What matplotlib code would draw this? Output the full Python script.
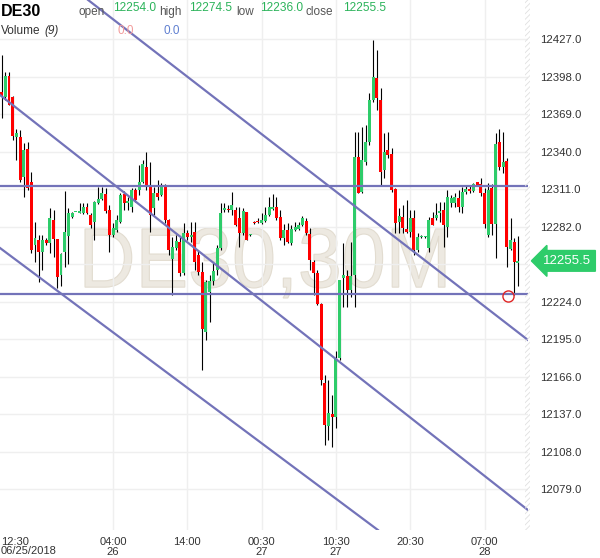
import matplotlib
matplotlib.use("Agg")
import matplotlib.pyplot as plt
from matplotlib.patches import Rectangle, PathPatch
from matplotlib.textpath import TextPath
from matplotlib.font_manager import FontProperties
from matplotlib.transforms import blended_transform_factory, Affine2D, IdentityTransform

# DE30 30-minute candles
opens = [12386.1, 12382.2, 12398.4, 12382.2, 12351.3, 12351.3, 12320.3, 12342.0, 12316.5, 12267.7,
         12271.6, 12262.3, 12271.6, 12269.3, 12287.1, 12272.4, 12244.5, 12262.3, 12274.7, 12289.4,
         12293.3, 12292.5, 12292.5, 12297.1, 12290.9, 12285.5, 12300.2, 12303.3, 12307.2, 12294.8,
         12275.5, 12279.3, 12285.5, 12307.2, 12300.2, 12297.1, 12310.3, 12310.3, 12316.5, 12328.1,
         12314.1, 12296.4, 12307.9, 12306.4, 12314.1, 12287.1, 12256.9, 12265.4, 12270.1, 12246.1,
         12277.0, 12273.9, 12277.8, 12260.0, 12246.8, 12200.5, 12231.4, 12239.9, 12248.4, 12265.4,
         12294.8, 12295.6, 12294.8, 12294.8, 12288.6, 12277.0, 12293.3, 12275.5, 12285.5, 12286.3,
         12284.8, 12286.3, 12290.9, 12295.6, 12297.1, 12289.4, 12273.2, 12279.3, 12269.3, 12279.3,
         12280.1, 12283.2, 12286.3, 12276.2, 12254.6, 12246.1, 12222.1, 12161.0, 12127.8, 12137.1,
         12134.7, 12180.4, 12242.2, 12243.8, 12232.9, 12244.5, 12335.8, 12308.7, 12331.9, 12347.4,
         12379.9, 12396.9, 12379.9, 12325.7, 12341.2, 12338.1, 12311.0, 12285.5, 12289.4, 12280.1,
         12277.8, 12288.6, 12263.9, 12273.9, 12273.9, 12265.4, 12288.6, 12288.6, 12292.5, 12294.8,
         12281.7, 12300.2, 12300.2, 12304.1, 12297.1, 12308.7, 12311.0, 12309.5, 12316.5, 12314.9,
         12307.9, 12275.5, 12311.8, 12284.0, 12347.4, 12328.1, 12332.7, 12264.6, 12270.1, 12254.0]
highs = [12414.7, 12401.5, 12401.5, 12383.0, 12357.4, 12356.7, 12346.6, 12347.4, 12324.2, 12285.5,
         12275.5, 12275.5, 12273.2, 12296.4, 12294.8, 12272.4, 12261.6, 12309.5, 12296.4, 12293.3,
         12293.5, 12300.2, 12300.2, 12300.2, 12292.5, 12301.8, 12312.6, 12312.6, 12311.8, 12298.7,
         12284.8, 12290.9, 12307.9, 12309.5, 12304.9, 12311.8, 12311.8, 12329.6, 12333.5, 12339.7,
         12331.9, 12312.6, 12318.0, 12315.7, 12314.9, 12287.8, 12273.9, 12275.5, 12273.9, 12284.8,
         12279.3, 12285.5, 12285.5, 12263.9, 12254.6, 12240.7, 12244.5, 12254.6, 12267.7, 12300.2,
         12300.2, 12298.7, 12308.7, 12297.1, 12297.1, 12296.4, 12293.3, 12275.9, 12286.3, 12288.6,
         12292.5, 12297.1, 12304.9, 12307.2, 12304.9, 12294.8, 12284.0, 12284.8, 12283.2, 12285.5,
         12285.5, 12290.2, 12288.6, 12280.9, 12256.1, 12248.4, 12222.9, 12167.2, 12163.4, 12151.7,
         12185.8, 12240.7, 12269.3, 12248.4, 12270.1, 12355.1, 12355.1, 12359.0, 12360.5, 12385.3,
         12426.3, 12418.5, 12389.2, 12354.4, 12355.1, 12342.8, 12311.8, 12296.4, 12298.7, 12302.6,
         12294.8, 12294.8, 12277.0, 12275.5, 12274.7, 12289.4, 12293.3, 12300.2, 12301.0, 12301.0,
         12310.3, 12306.4, 12307.9, 12310.3, 12312.6, 12314.1, 12314.1, 12315.7, 12316.5, 12319.5,
         12311.8, 12315.7, 12314.9, 12354.4, 12357.4, 12355.1, 12335.0, 12288.6, 12273.2, 12274.5]
lows = [12366.0, 12379.9, 12376.0, 12349.0, 12333.5, 12316.5, 12304.9, 12310.3, 12261.6, 12254.6,
        12239.1, 12248.4, 12267.7, 12261.6, 12258.5, 12234.5, 12236.0, 12250.7, 12253.0, 12288.6,
        12293.0, 12292.5, 12291.7, 12291.7, 12280.9, 12271.6, 12299.5, 12302.6, 12292.5, 12262.3,
        12273.9, 12277.8, 12284.8, 12294.8, 12294.8, 12293.3, 12301.0, 12306.4, 12315.7, 12310.3,
        12277.8, 12290.9, 12302.6, 12305.6, 12284.8, 12260.0, 12229.1, 12263.9, 12243.8, 12244.5,
        12271.6, 12270.1, 12248.4, 12244.5, 12171.1, 12194.3, 12208.2, 12236.8, 12244.5, 12263.9,
        12293.3, 12293.3, 12290.9, 12282.4, 12266.2, 12275.5, 12271.6, 12275.1, 12284.0, 12284.8,
        12284.0, 12285.5, 12290.2, 12294.8, 12287.1, 12271.6, 12267.7, 12269.3, 12267.7, 12278.5,
        12279.3, 12282.4, 12275.5, 12248.4, 12229.1, 12221.3, 12159.5, 12113.1, 12117.0, 12111.5,
        12126.2, 12178.8, 12219.8, 12219.8, 12227.5, 12219.8, 12307.9, 12307.9, 12329.6, 12345.1,
        12378.3, 12372.1, 12314.1, 12319.5, 12335.0, 12308.7, 12277.0, 12277.0, 12277.0, 12277.0,
        12273.9, 12260.0, 12262.3, 12273.2, 12273.2, 12262.3, 12283.2, 12287.1, 12285.5, 12266.2,
        12273.9, 12297.1, 12297.1, 12293.3, 12292.5, 12307.2, 12307.9, 12308.7, 12313.4, 12305.6,
        12280.9, 12273.9, 12275.5, 12257.7, 12325.7, 12323.4, 12250.7, 12263.9, 12229.1, 12236.0]
closes = [12383.0, 12398.4, 12376.0, 12352.0, 12354.4, 12318.0, 12341.2, 12311.8, 12263.9, 12273.2,
          12262.3, 12271.6, 12269.3, 12288.6, 12272.4, 12243.0, 12260.8, 12277.8, 12292.5, 12292.5,
          12293.3, 12294.0, 12297.1, 12292.5, 12283.2, 12301.0, 12303.3, 12307.9, 12294.0, 12275.5,
          12280.9, 12287.1, 12306.4, 12300.2, 12301.8, 12310.3, 12302.6, 12316.5, 12330.4, 12314.1,
          12290.9, 12307.9, 12304.9, 12313.4, 12287.1, 12263.9, 12266.2, 12270.8, 12246.1, 12277.0,
          12273.9, 12275.5, 12254.6, 12246.8, 12202.8, 12239.1, 12239.9, 12247.6, 12265.4, 12292.5,
          12296.4, 12294.8, 12298.7, 12283.2, 12277.0, 12294.0, 12271.6, 12275.5, 12284.8, 12285.5,
          12287.1, 12290.9, 12297.1, 12297.1, 12288.6, 12273.2, 12279.3, 12270.1, 12280.1, 12281.7,
          12283.2, 12288.6, 12277.0, 12256.1, 12246.1, 12222.1, 12163.4, 12128.6, 12137.8, 12134.7,
          12180.4, 12240.7, 12244.5, 12232.9, 12243.8, 12335.8, 12307.9, 12333.5, 12347.4, 12379.9,
          12397.7, 12381.4, 12324.2, 12339.7, 12337.3, 12310.3, 12284.8, 12290.2, 12280.9, 12277.8,
          12288.6, 12263.9, 12273.9, 12274.7, 12273.9, 12287.1, 12283.2, 12290.9, 12294.0, 12283.2,
          12304.9, 12304.1, 12304.9, 12297.1, 12308.7, 12311.0, 12309.5, 12314.9, 12314.1, 12307.9,
          12284.0, 12310.3, 12284.0, 12345.8, 12328.1, 12331.9, 12266.2, 12271.6, 12254.6, 12255.5]

price_ticks = [12079, 12108, 12137, 12166, 12195, 12224, 12253, 12282, 12311, 12340, 12369, 12398, 12427]
time_ticks = [30, 50, 70, 90, 110, 130]
time_labels = ["04:00\n26", "14:00", "00:30\n27", "10:30\n27", "20:30", "07:00\n28"]
first_label = "12:30\n06/25/2018"

# drawn objects: two horizontal levels, three parallel trend lines, a marker
levels = [12313.4, 12229.6]
trend_lines = [((23.3, 12457.2), (141.7, 12194.3)),
               ((-0.4, 12383.7), (141.7, 12062.8)),
               ((-0.4, 12265.4), (101.3, 12047.4))]
marker_pt = (136.2, 12228.5)

header = [("open", "12254.0"), ("high", "12274.5"), ("low", "12236.0"), ("close", "12255.5")]
last_price = closes[-1]
watermark = "DE30,30M"

GREEN = "#2ecc6a"
RED = "#ff0000"
LINE = "#7373b9"
FONT = ["Liberation Sans", "DejaVu Sans"]
plt.rcParams["font.family"] = FONT
plt.rcParams["hatch.linewidth"] = 0.6

fig = plt.figure(figsize=(6, 5.58), dpi=100)
ax = fig.add_axes([0, 28 / 558, 528 / 600, 530 / 558])
ax.set_xlim(-0.42, 141.7)
ax.set_ylim(12047.4, 12457.2)
for s in ax.spines.values():
    s.set_visible(False)

# grid + ticks (12253 label sits under the price tag, so it's blank)
ax.set_yticks(price_ticks)
ax.set_yticklabels(["" if p == 12253 else "%.1f" % p for p in price_ticks])
ax.set_xticks(time_ticks)
ax.set_xticklabels(time_labels, linespacing=0.95)
ax.yaxis.tick_right()
ax.tick_params(axis="y", length=0, pad=9, labelsize=8.2, labelcolor="#333333")
ax.tick_params(axis="x", length=0, pad=5, labelsize=8, labelcolor="#333333")
ax.grid(True, color="#efefef", lw=1, zorder=0)
ax.set_axisbelow(True)
ax.text(0.002, -0.013, first_label, transform=ax.transAxes, ha="left", va="top",
        fontsize=8, color="#333333", linespacing=0.95)

# watermark, squeezed to a narrow face (box 85..445 x 228..298 px)
tp = TextPath((0, 0), watermark, size=100, prop=FontProperties(family="Liberation Sans"))
bb = tp.get_extents()
sx = 360 / bb.width
sy = 70 / bb.height
wm = Affine2D().translate(-bb.x0, -bb.y0).scale(sx, sy).translate(85, 558 - 298)
ax.add_patch(PathPatch(tp, transform=wm + IdentityTransform(), fc="#ede9e1", ec="#e2dcd0",
                       lw=0.8, zorder=0.5))

# candles
idx = list(range(len(opens)))
ax.vlines(idx, lows, highs, color="black", lw=0.8, zorder=2)
for i in idx:
    o, c = opens[i], closes[i]
    col = GREEN if c >= o else RED
    h = max(abs(c - o), 0.8)
    ax.bar(i, h, bottom=min(o, c), width=0.8, color=col, lw=0, zorder=3)

# drawings
for lv in levels:
    ax.axhline(lv, color=LINE, lw=1.6, zorder=4)
for p1, p2 in trend_lines:
    ax.axline(p1, p2, color=LINE, lw=1.6, zorder=4)
ax.plot(*marker_pt, "o", mfc="none", mec="#e02424", ms=8, mew=1, zorder=5)

# hatched strip at the right edge of the plot
fig.patches.append(Rectangle((525 / 600, 28 / 558), 5 / 600, 530 / 558, transform=fig.transFigure,
                             fill=False, hatch="//////", edgecolor="#e0e0e0", lw=0))

# last price tag
tr = blended_transform_factory(fig.transFigure, ax.transData)
ax.text(567 / 600, last_price, "%.1f" % last_price, transform=tr, ha="center", va="center",
        fontsize=9.5, color="white", zorder=6, clip_on=False,
        bbox=dict(boxstyle="larrow,pad=0.33", fc=GREEN, ec=GREEN))

# header
def px(x, y):
    return x / 600, 1 - y / 558

fig.text(*px(1, 11), "DE30", fontsize=11.5, fontweight="bold", va="center", ha="left")
xs = [(79, 113), (159, 189), (236, 260), (305, 343)]
for (lab, val), (xl, xv) in zip(header, xs):
    fig.text(*px(xl, 12), lab, fontsize=8.5, color="#555555", va="center")
    fig.text(*px(xv, 8), val, fontsize=8.6, color="#2bb35a", va="center")
fig.text(*px(1, 31), "Volume", fontsize=8.5, color="#333333", va="center")
fig.text(*px(44, 31), "(9)", fontsize=8.5, color="#333333", va="center", style="italic")
fig.text(*px(117, 31), "0.0", fontsize=8.5, color="#f29a9a", va="center")
fig.text(*px(163, 31), "0.0", fontsize=8.5, color="#5f7fd0", va="center")

fig.savefig("out.png", dpi=100)
